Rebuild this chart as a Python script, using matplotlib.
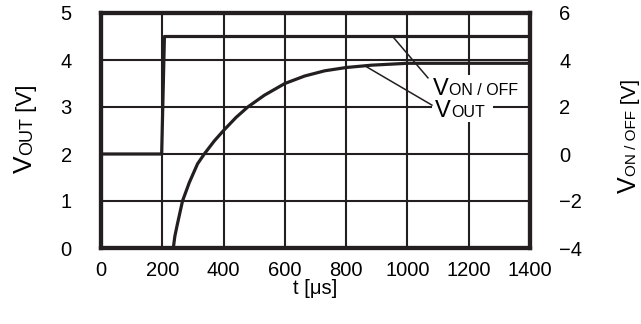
import matplotlib
matplotlib.use("Agg")
import matplotlib.pyplot as plt
import matplotlib.transforms as mtransforms
from matplotlib.patches import Rectangle

plt.rcParams['font.family'] = ['Liberation Sans', 'DejaVu Sans']

# ---- data ----
t_onoff = [0, 198, 207, 1400]
v_onoff = [0, 0, 5, 5]          # right axis [V]

t_out = [0, 236, 241, 249, 266, 288, 315, 337, 370, 400, 441, 479, 533, 600,
         665, 730, 800, 883, 1000, 1100, 1400]
v_out = [0, 0, 0.25, 0.50, 1.0, 1.39, 1.79, 2.0, 2.28, 2.50, 2.78, 3.0, 3.25, 3.50,
         3.66, 3.77, 3.84, 3.89, 3.93, 3.93, 3.93]

x_ticks = [0, 200, 400, 600, 800, 1000, 1200, 1400]
y_left_ticks = [0, 1, 2, 3, 4, 5]
y_right_ticks = [-4, -2, 0, 2, 4, 6]

INK = '#231f20'
W, H = 641, 324

fig = plt.figure(figsize=(W / 100, H / 100), dpi=100)
ax = fig.add_axes([101 / W, (H - 248) / H, 429 / W, 235 / H])
ax.set_xlim(0, 1400)
ax.set_ylim(0, 5)
ax.set_xticks(x_ticks)
ax.set_yticks(y_left_ticks)
ax.grid(True, color=INK, lw=1.5)
ax.set_axisbelow(True)
for s in ax.spines.values():
    s.set_linewidth(3.0)
    s.set_color(INK)
ax.tick_params(length=0, labelsize=14.5, colors='black')
ax.tick_params(axis='y', pad=21)
ax.tick_params(axis='x', pad=9)

ax2 = ax.twinx()
ax2.set_ylim(-4, 6)
ax2.set_yticks(y_right_ticks)
ax2.tick_params(length=0, labelsize=14.5, pad=21)
for s in ax2.spines.values():
    s.set_linewidth(3.0)
    s.set_color(INK)

ax.plot(t_out, v_out, color=INK, lw=2.3, zorder=3, solid_joinstyle='round')
ax2.plot(t_onoff, v_onoff, color=INK, lw=2.3, zorder=3)

# white label area and leader lines
ax.add_patch(Rectangle((1080, 2.68), 200, 1.0, facecolor='white', edgecolor='none', zorder=2.5))
ax.plot([953, 1067], [4.49, 3.62], color=INK, lw=1.1, zorder=4)
ax.plot([868, 1080], [3.85, 3.04], color=INK, lw=1.1, zorder=4)

ax.set_xlabel('t [μs]', fontsize=14.5, labelpad=0)

ident = mtransforms.IdentityTransform()


def chain(pieces, x, y, rotation=0):
    r = fig.canvas.get_renderer()
    for txt, size in pieces:
        t = fig.text(x, y, txt, fontsize=size, transform=ident, rotation=rotation,
                     rotation_mode='anchor', ha='left', va='baseline', zorder=6)
        bb = t.get_window_extent(renderer=r)
        if rotation == 0:
            x += bb.width
        else:
            y += bb.height


chain([('V', 17), ('ON / OFF', 11.5)], 433, H - 95)
chain([('V', 17), ('OUT', 11.5)], 435, H - 117)
chain([('V', 19), ('OUT', 13), (' [V]', 16)], 32, H - 173, rotation=90)
chain([('V', 18), ('ON / OFF', 11), (' [V]', 15)], 636, H - 193, rotation=90)

fig.savefig('out.png', dpi=100)
